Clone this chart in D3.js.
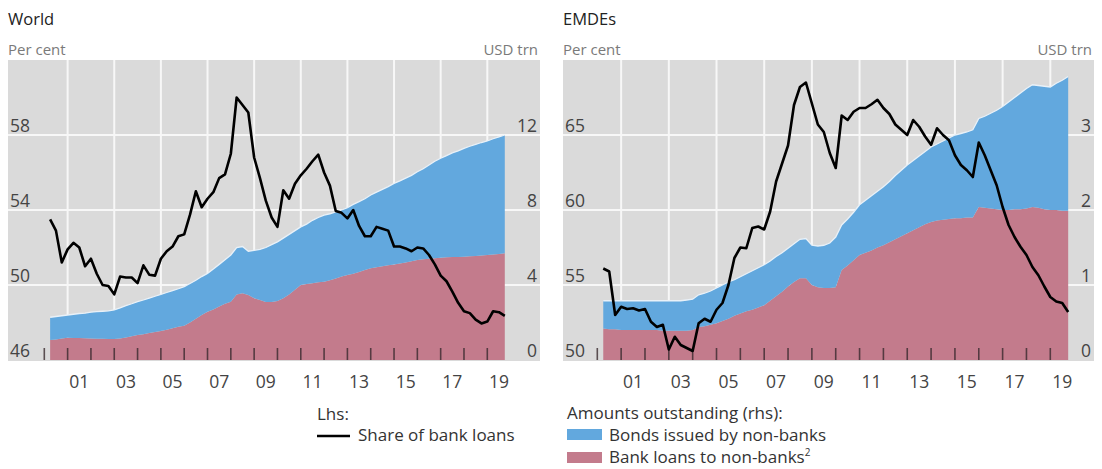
<!DOCTYPE html>
<html>
<head>
<meta charset="utf-8">
<script src="https://cdn.jsdelivr.net/npm/d3@7"></script>
<style>
  html, body { margin: 0; padding: 0; background: #ffffff; }
  svg { display: block; font-family: "Open Sans", "Noto Sans", sans-serif; }
</style>
</head>
<body>
<svg id="chart" width="1102" height="469"></svg>
<script>
// ---------------- DATA ----------------
// Quarterly observations 2000Q1 .. 2019Q3
const years = d3.range(2000, 2020);
const quarters = [];
years.forEach(y => [1, 2, 3, 4].forEach(q => { if (!(y === 2019 && q === 4)) quarters.push(y + "Q" + q); }));

// World
const worldShare = [
  53.5, 52.9, 51.2, 51.9,
  52.25, 52.0, 51.0, 51.4,
  50.6, 50.0, 49.95, 49.5,
  50.45, 50.4, 50.4, 50.1,
  51.05, 50.55, 50.5, 51.4,
  51.8, 52.05, 52.6, 52.7,
  53.75, 55.0, 54.15, 54.6,
  54.95, 55.7, 55.9, 57.0,
  60.0, 59.6, 59.2, 56.8,
  55.7, 54.5, 53.6, 53.1,
  55.05, 54.6, 55.4, 55.85,
  56.2, 56.6, 56.95, 56.0,
  55.3, 53.95, 53.85, 53.55,
  54.0, 53.15, 52.6, 52.6,
  53.1, 53.0, 52.9, 52.05,
  52.05, 51.95, 51.8, 52.0,
  51.95, 51.6, 51.1, 50.5,
  50.2, 49.65, 49.05, 48.6,
  48.5, 48.15, 47.95, 48.05,
  48.6, 48.55, 48.35
];
const worldBonds = [
  1.21, 1.22, 1.21, 1.21,
  1.26, 1.31, 1.34, 1.40,
  1.44, 1.47, 1.50, 1.55,
  1.63, 1.70, 1.73, 1.78,
  1.82, 1.86, 1.90, 1.95,
  1.98, 2.00, 2.03, 2.08,
  2.08, 2.05, 2.05, 2.04,
  2.15, 2.25, 2.35, 2.49,
  2.50, 2.49, 2.33, 2.55,
  2.70, 2.90, 3.05, 3.15,
  3.20, 3.20, 3.15, 3.10,
  3.20, 3.35, 3.45, 3.55,
  3.55, 3.55, 3.55, 3.59,
  3.70, 3.75, 3.80, 3.91,
  4.00, 4.10, 4.20, 4.32,
  4.40, 4.50, 4.58, 4.71,
  4.83, 5.00, 5.17, 5.30,
  5.42, 5.56, 5.65, 5.78,
  5.87, 5.95, 6.02, 6.08,
  6.17, 6.24, 6.31
];
const worldLoans = [
  1.07, 1.10, 1.15, 1.19,
  1.18, 1.17, 1.16, 1.15,
  1.14, 1.13, 1.12, 1.12,
  1.15, 1.20, 1.27, 1.33,
  1.38, 1.44, 1.50, 1.55,
  1.62, 1.70, 1.77, 1.83,
  2.00, 2.20, 2.40, 2.58,
  2.70, 2.85, 3.00, 3.11,
  3.50, 3.56, 3.47, 3.30,
  3.20, 3.10, 3.10, 3.15,
  3.30, 3.50, 3.75, 4.00,
  4.05, 4.10, 4.15, 4.18,
  4.25, 4.35, 4.45, 4.53,
  4.60, 4.70, 4.80, 4.89,
  4.95, 5.00, 5.05, 5.10,
  5.15, 5.20, 5.27, 5.33,
  5.37, 5.40, 5.43, 5.46,
  5.48, 5.49, 5.50, 5.51,
  5.53, 5.55, 5.58, 5.60,
  5.63, 5.66, 5.69
];

// EMDEs
const emdeShare = [
  56.1, 55.9, 53.0, 53.55,
  53.4, 53.45, 53.3, 53.4,
  52.55, 52.2, 52.35, 50.7,
  51.55, 51.0, 50.8, 50.6,
  52.45, 52.75, 52.55, 53.35,
  53.8, 55.0, 56.8, 57.5,
  57.45, 58.8, 58.9, 58.7,
  59.9, 61.9, 63.1, 64.3,
  67.0, 68.2, 68.5, 67.1,
  65.7, 65.2, 63.8, 62.8,
  66.3, 66.0, 66.55, 66.8,
  66.8, 67.05, 67.35, 66.8,
  66.4, 65.7, 65.35, 65.0,
  66.0, 65.55, 64.9, 64.35,
  65.45, 65.0, 64.65, 63.65,
  63.0, 62.65, 62.2, 64.5,
  63.65, 62.65, 61.65, 60.2,
  59.0, 58.2, 57.55, 57.0,
  56.2, 55.65, 54.9, 54.2,
  53.9, 53.8, 53.2
];
const emdeBonds = [
  0.37, 0.38, 0.38, 0.39,
  0.39, 0.39, 0.39, 0.39,
  0.39, 0.39, 0.40, 0.40,
  0.40, 0.40, 0.41, 0.41,
  0.43, 0.44, 0.45, 0.47,
  0.48, 0.49, 0.48, 0.49,
  0.50, 0.52, 0.53, 0.54,
  0.53, 0.53, 0.52, 0.51,
  0.51, 0.52, 0.53, 0.53,
  0.55, 0.57, 0.60, 0.67,
  0.60, 0.62, 0.64, 0.67,
  0.70, 0.73, 0.75, 0.78,
  0.81, 0.85, 0.88, 0.91,
  0.93, 0.95, 0.97, 1.00,
  1.02, 1.05, 1.08, 1.11,
  1.13, 1.14, 1.17, 1.18,
  1.22, 1.27, 1.32, 1.38,
  1.44, 1.49, 1.55, 1.60,
  1.63, 1.63, 1.64, 1.64,
  1.69, 1.74, 1.79
];
const emdeLoans = [
  0.42, 0.41, 0.41, 0.40,
  0.40, 0.40, 0.40, 0.40,
  0.40, 0.40, 0.39, 0.39,
  0.39, 0.39, 0.39, 0.40,
  0.44, 0.45, 0.47, 0.49,
  0.52, 0.55, 0.59, 0.62,
  0.65, 0.67, 0.70, 0.73,
  0.79, 0.85, 0.91, 0.98,
  1.04, 1.09, 1.09, 1.00,
  0.97, 0.96, 0.96, 0.97,
  1.20, 1.26, 1.33, 1.40,
  1.43, 1.46, 1.50, 1.53,
  1.57, 1.61, 1.65, 1.69,
  1.73, 1.77, 1.81, 1.84,
  1.86, 1.87, 1.88, 1.89,
  1.89, 1.90, 1.90, 2.04,
  2.03, 2.02, 2.01, 2.00,
  2.00, 2.01, 2.01, 2.02,
  2.04, 2.03, 2.01, 2.00,
  2.00, 1.99, 1.99
];

// Axis ticks / labels
const xLabelYears = [2001, 2003, 2005, 2007, 2009, 2011, 2013, 2015, 2017, 2019];
const xLabels = ["01", "03", "05", "07", "09", "11", "13", "15", "17", "19"];
const worldLeftTicks = [46, 50, 54, 58];
const worldRightTicks = [0, 4, 8, 12];
const emdeLeftTicks = [50, 55, 60, 65];
const emdeRightTicks = [0, 1, 2, 3];

// ---------------- STYLE ----------------
const COL_BG = "#dadada";
const COL_BLUE = "#62a8de";
const COL_PINK = "#c37b8c";
const COL_LINE = "#000000";
const TICK_FS = 17.5;

const svg = d3.select("#chart");

function quarterToYear(q) {
  const y = +q.slice(0, 4), n = +q.slice(5);
  return y + n * 0.25;
}

function drawPanel(cfg) {
  const g = svg.append("g");
  const top = 60, bottom = 361, base = 360;

  const x = d3.scaleLinear().domain([2000, 2019]).range([cfg.x2000, cfg.x2019]);
  const yL = d3.scaleLinear().domain(cfg.leftDomain).range([base, top]);
  const yR = d3.scaleLinear().domain(cfg.rightDomain).range([base, top]);

  // title and units
  g.append("text").attr("x", cfg.gx0).attr("y", 25)
    .attr("font-size", 16.5).attr("fill", "#222").text(cfg.title);
  g.append("text").attr("x", cfg.gx0).attr("y", 55)
    .attr("font-size", 15).attr("fill", "#7a7a7a").text("Per cent");
  g.append("text").attr("x", cfg.gx1 - 2).attr("y", 55).attr("text-anchor", "end")
    .attr("font-size", 15).attr("fill", "#7a7a7a").text("USD trn");

  // background
  g.append("rect").attr("x", cfg.gx0).attr("y", top)
    .attr("width", cfg.gx1 - cfg.gx0).attr("height", bottom - top).attr("fill", COL_BG);

  // horizontal grid
  g.selectAll(".hg").data(cfg.leftTicks.filter(v => v !== cfg.leftDomain[0])).enter()
    .append("line")
    .attr("x1", cfg.gx0).attr("x2", cfg.gx1)
    .attr("y1", d => yL(d)).attr("y2", d => yL(d))
    .attr("stroke", "#f7f7f7").attr("stroke-width", 2);
  // vertical grid
  g.selectAll(".vg").data(xLabelYears).enter()
    .append("line")
    .attr("x1", d => x(d)).attr("x2", d => x(d))
    .attr("y1", top).attr("y2", base)
    .attr("stroke", "#f7f7f7").attr("stroke-width", 2);

  // stacked areas
  const rows = quarters.map((q, i) => ({ t: quarterToYear(q), loans: cfg.loans[i], bonds: cfg.bonds[i] }));
  const stack = d3.stack().keys(["loans", "bonds"]);
  const series = stack(rows);
  const area = d3.area()
    .x(d => x(d.data.t))
    .y0(d => yR(d[0]))
    .y1(d => yR(d[1]));
  const colors = { loans: COL_PINK, bonds: COL_BLUE };
  g.selectAll(".area").data(series).enter()
    .append("path")
    .attr("d", area)
    .attr("fill", d => colors[d.key]);
  // light edge on top of blue
  g.append("path")
    .datum(series[1])
    .attr("d", d3.line().x(d => x(d.data.t)).y(d => yR(d[1])))
    .attr("fill", "none").attr("stroke", "#e9f1f8").attr("stroke-width", 1.3);

  // bottom ticks
  g.selectAll(".xt").data(years).enter()
    .append("line")
    .attr("x1", d => x(d)).attr("x2", d => x(d))
    .attr("y1", base - 12).attr("y2", base)
    .attr("stroke", "#3a2a2e").attr("stroke-opacity", 0.8).attr("stroke-width", 1.6);

  // x labels
  g.selectAll(".xl").data(xLabelYears).enter()
    .append("text")
    .attr("x", d => x(d + 0.5)).attr("y", 388)
    .attr("text-anchor", "middle").attr("font-size", TICK_FS).attr("fill", "#444")
    .text((d, i) => xLabels[i]);

  // left labels
  g.selectAll(".yl").data(cfg.leftTicks).enter()
    .append("text")
    .attr("x", cfg.gx0 + 2).attr("y", d => yL(d) - 3)
    .attr("font-size", TICK_FS).attr("fill", "#444").text(d => d);
  // right labels
  g.selectAll(".yr").data(cfg.rightTicks).enter()
    .append("text")
    .attr("x", cfg.gx1 - 3).attr("y", d => yR(d) - 3).attr("text-anchor", "end")
    .attr("font-size", TICK_FS).attr("fill", "#444").text(d => d);

  // share line
  const line = d3.line()
    .x((d, i) => x(quarterToYear(quarters[i])))
    .y(d => yL(d));
  g.append("path").datum(cfg.share)
    .attr("d", line)
    .attr("fill", "none").attr("stroke", COL_LINE)
    .attr("stroke-width", 2.6).attr("stroke-linejoin", "round");
}

drawPanel({
  title: "World", gx0: 8, gx1: 540, x2000: 44.3, x2019: 487.3,
  leftDomain: [46, 62], rightDomain: [0, 16],
  leftTicks: worldLeftTicks, rightTicks: worldRightTicks,
  share: worldShare, bonds: worldBonds, loans: worldLoans
});
drawPanel({
  title: "EMDEs", gx0: 563, gx1: 1094, x2000: 597.3, x2019: 1050.3,
  leftDomain: [50, 70], rightDomain: [0, 4],
  leftTicks: emdeLeftTicks, rightTicks: emdeRightTicks,
  share: emdeShare, bonds: emdeBonds, loans: emdeLoans
});

// ---------------- LEGEND ----------------
const lg = svg.append("g").attr("font-size", 17).attr("fill", "#333");
lg.append("text").attr("x", 317).attr("y", 420).text("Lhs:");
lg.append("line").attr("x1", 317).attr("x2", 350).attr("y1", 436).attr("y2", 436)
  .attr("stroke", COL_LINE).attr("stroke-width", 2.6);
lg.append("text").attr("x", 358).attr("y", 441).text("Share of bank loans");

lg.append("text").attr("x", 567).attr("y", 419).text("Amounts outstanding (rhs):");
lg.append("rect").attr("x", 567).attr("y", 429).attr("width", 35).attr("height", 11).attr("fill", COL_BLUE);
lg.append("text").attr("x", 609).attr("y", 441).text("Bonds issued by non-banks");
lg.append("rect").attr("x", 567).attr("y", 452).attr("width", 35).attr("height", 11).attr("fill", COL_PINK);
const t3 = lg.append("text").attr("x", 609).attr("y", 463);
t3.append("tspan").text("Bank loans to non-banks");
t3.append("tspan").attr("font-size", 10).attr("dy", -7).text("2");
</script>
</body>
</html>
